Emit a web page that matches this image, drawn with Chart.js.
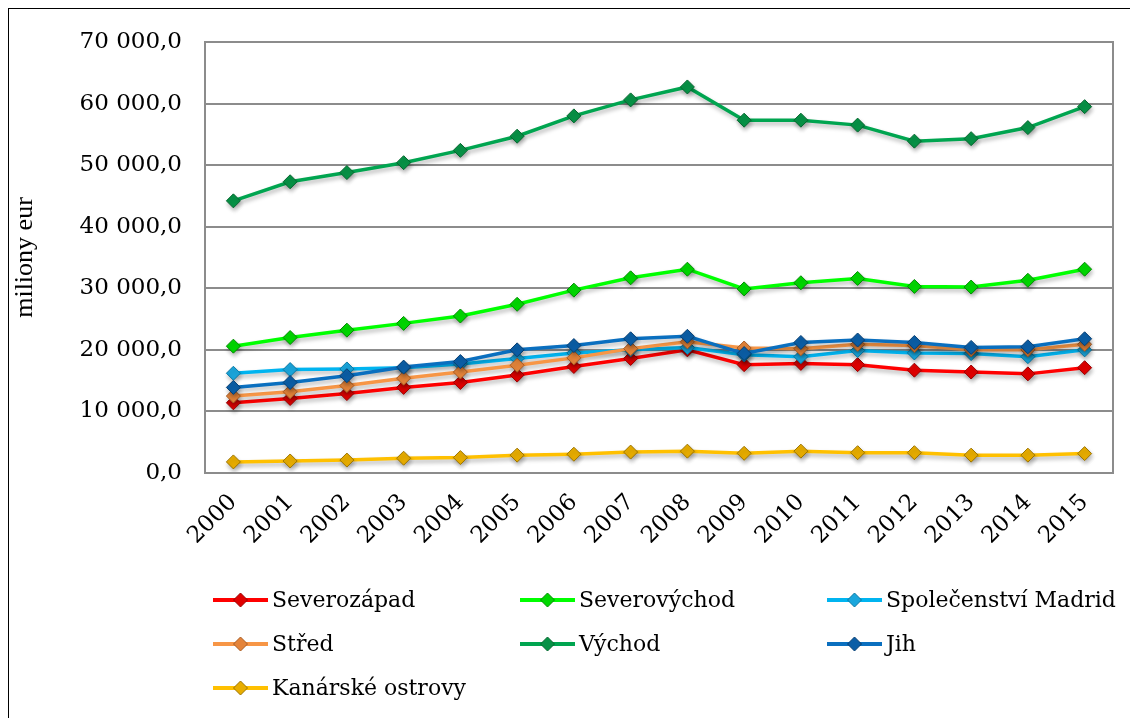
<!DOCTYPE html>
<html>
<head>
<meta charset="utf-8">
<script src="https://cdn.jsdelivr.net/npm/chart.js@4/dist/chart.umd.min.js"></script>
<style>
  html, body { margin: 0; padding: 0; background: #fff; overflow: hidden; }
  #frame { position: absolute; left: 8px; top: 8px; width: 1140px; height: 740px; border: 1px solid #000; }
  #c { position: absolute; left: 0; top: 0; }
</style>
</head>
<body>
<div id="frame"></div>
<canvas id="c" width="1130" height="718"></canvas>
<script>
// categories
var years = ['2000', '2001', '2002', '2003', '2004', '2005', '2006', '2007',
             '2008', '2009', '2010', '2011', '2012', '2013', '2014', '2015'];

// series values (milions EUR)
var severozapad = [11400, 12100, 12900, 13900, 14700, 15900, 17300, 18600, 20000, 17600, 17800, 17600, 16700, 16400, 16100, 17100];
var severovychod = [20600, 22000, 23200, 24300, 25500, 27400, 29700, 31700, 33100, 29900, 30900, 31600, 30300, 30200, 31300, 33100];
var madrid = [16200, 16800, 16900, 17100, 17700, 18600, 19500, 20000, 20400, 19200, 18900, 19900, 19500, 19400, 18900, 20000];
var stred = [12500, 13200, 14200, 15400, 16400, 17500, 18700, 20200, 21300, 20300, 20200, 20900, 20700, 20000, 20000, 20900];
var vychod = [44200, 47300, 48800, 50400, 52400, 54700, 58000, 60600, 62700, 57300, 57300, 56500, 53900, 54300, 56100, 59500];
var jih = [13900, 14700, 15800, 17200, 18100, 20000, 20700, 21800, 22200, 19400, 21200, 21600, 21200, 20400, 20500, 21800];
var kanarske = [1800, 1950, 2100, 2400, 2500, 2900, 3050, 3400, 3550, 3200, 3550, 3300, 3300, 2900, 2900, 3150];

// y axis ticks
var yTicks = [0, 10000, 20000, 30000, 40000, 50000, 60000, 70000];

function fmt(v) {
  var s = String(Math.round(v)).replace(/\B(?=(\d{3})+(?!\d))/g, ' ');
  return s + ',0';
}

function series(label, data, line, fill, edge, idx) {
  return {
    label: label,
    data: data,
    borderColor: line,
    backgroundColor: line,
    borderWidth: 3.5,
    tension: 0,
    pointStyle: 'rectRot',
    pointRadius: 7,
    pointHoverRadius: 7,
    pointBackgroundColor: fill,
    pointBorderColor: edge,
    pointBorderWidth: 1,
    order: 10 - idx
  };
}

// plot area frame + soft shadows like the office chart
var framePlugin = {
  id: 'framePlugin',
  beforeDatasetDraw: function(chart) {
    var ctx = chart.ctx;
    ctx.save();
    ctx.shadowColor = 'rgba(0,0,0,0.28)';
    ctx.shadowBlur = 4;
    ctx.shadowOffsetX = 1;
    ctx.shadowOffsetY = 3;
  },
  afterDatasetDraw: function(chart) {
    chart.ctx.restore();
  },
  afterDraw: function(chart) {
    var ctx = chart.ctx;
    var a = chart.chartArea;
    ctx.save();
    ctx.strokeStyle = '#8c8c8c';
    ctx.lineWidth = 2;
    ctx.strokeRect(a.left, a.top, a.right - a.left, a.bottom - a.top);
    ctx.restore();

    // legend in three columns
    var sets = chart.data.datasets;
    ctx.save();
    ctx.font = '22px "DejaVu Serif"';
    ctx.textBaseline = 'middle';
    ctx.textAlign = 'left';
    for (var i = 0; i < sets.length; i++) {
      var col = i % 3;
      var row = Math.floor(i / 3);
      var x = 213 + col * 307;
      var y = 600 + row * 44;
      var ds = sets[i];
      ctx.strokeStyle = ds.borderColor;
      ctx.lineWidth = 4;
      ctx.beginPath();
      ctx.moveTo(x, y);
      ctx.lineTo(x + 55, y);
      ctx.stroke();
      ctx.fillStyle = ds.pointBackgroundColor;
      ctx.strokeStyle = ds.pointBorderColor;
      ctx.lineWidth = 1;
      ctx.beginPath();
      ctx.moveTo(x + 27.5 - 7, y);
      ctx.lineTo(x + 27.5, y - 7);
      ctx.lineTo(x + 27.5 + 7, y);
      ctx.lineTo(x + 27.5, y + 7);
      ctx.closePath();
      ctx.fill();
      ctx.stroke();
      ctx.fillStyle = '#000';
      ctx.fillText(ds.label, x + 59, y + 1);
    }
    ctx.restore();
  }
};

document.addEventListener('DOMContentLoaded', function() {
  var ctx = document.getElementById('c').getContext('2d');
  var chart = new Chart(ctx, {
    type: 'line',
    data: {
      labels: years,
      datasets: [
        series('Severozápad', severozapad, '#ff0000', '#e00000', '#9a0000', 0),
        series('Severovýchod', severovychod, '#00ff00', '#00d800', '#008c00', 1),
        series('Společenství Madrid', madrid, '#00b4f0', '#1aa6dc', '#0a78a3', 2),
        series('Střed', stred, '#f79646', '#e4843a', '#a85c24', 3),
        series('Východ', vychod, '#00a550', '#079246', '#05672f', 4),
        series('Jih', jih, '#0a6fbf', '#0b5ea6', '#073f73', 5),
        series('Kanárské ostrovy', kanarske, '#ffc000', '#e8ad00', '#9c7400', 6)
      ]
    },
    options: {
      responsive: false,
      animation: false,
      events: [],
      layout: {
        padding: { left: 10, top: 42, right: 17, bottom: 175 }
      },
      plugins: {
        legend: { display: false },
        tooltip: { enabled: false }
      },
      scales: {
        x: {
          offset: true,
          grid: { display: false },
          border: { display: false },
          ticks: {
            color: '#000',
            font: { family: '"DejaVu Serif"', size: 23 },
            minRotation: 45,
            maxRotation: 45,
            padding: 8,
            autoSkip: false
          },
          afterFit: function(scale) { scale.height = 70; }
        },
        y: {
          min: yTicks[0],
          max: yTicks[yTicks.length - 1],
          afterBuildTicks: function(scale) {
            scale.ticks = yTicks.map(function(v) { return { value: v }; });
          },
          grid: { color: '#8c8c8c', lineWidth: 2, drawTicks: false },
          border: { display: false },
          ticks: {
            color: '#000',
            font: { family: '"DejaVu Serif"', size: 23 },
            padding: 23,
            callback: function(v) { return fmt(v); }
          },
          title: {
            display: true,
            text: 'miliony eur',
            color: '#000',
            font: { family: '"Liberation Serif"', size: 26 },
            padding: { top: 0 }
          },
          afterFit: function(scale) { scale.width = 195; }
        }
      }
    },
    plugins: [framePlugin]
  });
});
</script>
</body>
</html>
